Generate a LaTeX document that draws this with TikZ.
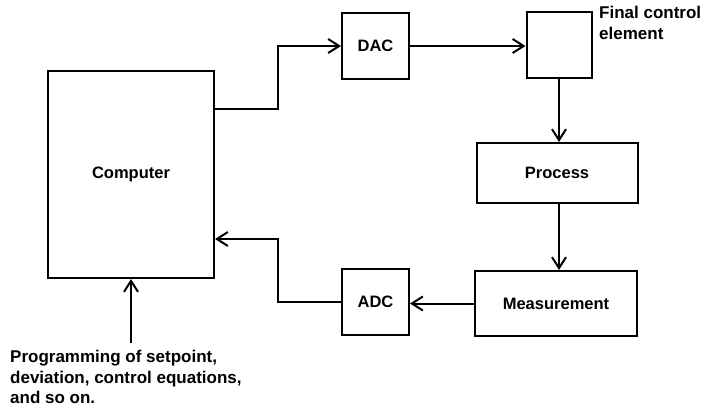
\documentclass[tikz,border=0pt]{standalone}
\usepackage{fontspec}
\setmainfont{Liberation Sans}
\usetikzlibrary{arrows.meta}
\begin{document}
\begin{tikzpicture}[x=1pt,y=-1pt,
  box/.style={draw,line width=2pt,inner sep=0pt,font=\bfseries\fontsize{16.5}{20}\selectfont},
  arr/.style={line width=2pt,-{Straight Barb[length=11pt,width=14pt,line width=2pt]}},
  lbl/.style={inner sep=0pt,align=left,font=\bfseries\fontsize{17}{20.5}\selectfont}]
\useasboundingbox (0,0) rectangle (710,408);
\node[box,minimum width=166pt,minimum height=207pt] (comp) at (131,174.5) {Computer};
\node[box,minimum width=67pt,minimum height=66pt] (dac) at (375.5,46) {DAC};
\node[box,minimum width=65pt,minimum height=66pt] (fce) at (559,45) {};
\node[box,minimum width=161pt,minimum height=60pt] (proc) at (557,173) {Process};
\node[box,minimum width=162pt,minimum height=65pt] (meas) at (556,303.5) {Measurement};
\node[box,minimum width=67pt,minimum height=66pt] (adc) at (375.5,302) {ADC};
\node[lbl,anchor=north west] (fcel) at (599,6) {Final control\\element};
\node[lbl,anchor=north west] (prog) at (10,350) {Programming of setpoint,\\deviation, control equations,\\and so on.};
\coordinate (c1) at (278,109);
\coordinate (c2) at (278,239);
\draw[arr] (comp.east |- c1) -- (c1) |- (dac.west);
\draw[arr] (dac.east) -- (fce.west |- dac.east);
\draw[arr] (fce.south) -- (proc.north -| fce.south);
\draw[arr] (proc.south -| fce.south) -- (meas.north -| fce.south);
\draw[arr] (meas.west) -- (adc.east |- meas.west);
\draw[arr] (adc.west) -| (c2) -- (comp.east |- c2);
\draw[arr] ([yshift=7pt]prog.north -| comp.south) -- (comp.south);
\end{tikzpicture}
\end{document}
